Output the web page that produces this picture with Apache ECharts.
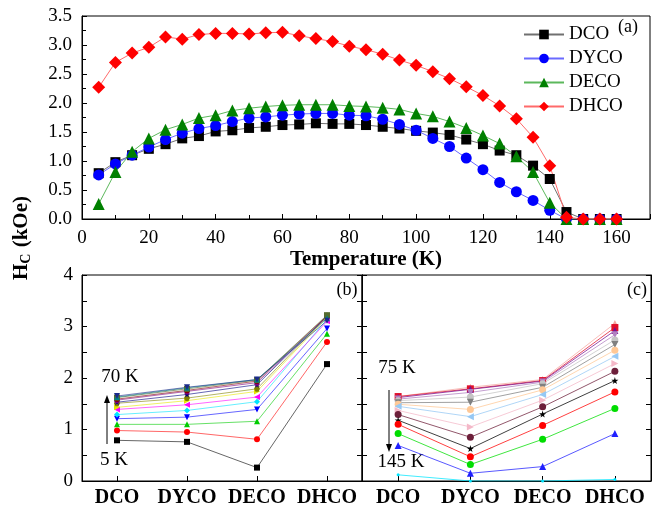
<!DOCTYPE html>
<html>
<head>
<meta charset="utf-8">
<script src="https://cdn.jsdelivr.net/npm/echarts@6/dist/echarts.min.js"></script>
<style>html,body{margin:0;padding:0;background:#fff}#c{width:653px;height:518px}</style>
</head>
<body>
<div id="c"></div>
<script>
// Temperatures (K)
const temps = [5,10,15,20,25,30,35,40,45,50,55,60,65,70,75,80,85,90,95,100,105,110,115,120,125,130,135,140,145,150,155,160];
// Coercivity H_C (kOe) per compound
const DCO  = [0.79,0.98,1.10,1.21,1.29,1.39,1.43,1.51,1.53,1.57,1.59,1.62,1.63,1.65,1.64,1.64,1.62,1.59,1.56,1.52,1.49,1.45,1.37,1.29,1.18,1.10,0.92,0.69,0.12,0,0,0];
const DYCO = [0.76,0.95,1.10,1.24,1.37,1.48,1.56,1.61,1.68,1.74,1.76,1.79,1.81,1.82,1.82,1.79,1.78,1.72,1.63,1.53,1.39,1.25,1.05,0.85,0.63,0.47,0.32,0.15,0,0,0,0];
const DECO = [0.26,0.81,1.16,1.39,1.54,1.63,1.74,1.79,1.87,1.91,1.94,1.96,1.97,1.97,1.97,1.95,1.94,1.92,1.89,1.82,1.77,1.68,1.57,1.44,1.30,1.08,0.81,0.28,0,0,0,0];
const DHCO = [2.27,2.70,2.86,2.96,3.14,3.10,3.18,3.20,3.20,3.19,3.21,3.22,3.16,3.11,3.06,2.98,2.92,2.84,2.74,2.65,2.54,2.42,2.28,2.13,1.95,1.73,1.41,0.92,0.03,0,0,0];
// Compounds (categories of panels b, c)
const compounds = ['DCO','DYCO','DECO','DHCO'];
// Temperatures shown in panel (b) and (c)
const tempsB = [5,10,15,20,25,30,35,40,45,50,55,60,65,70];
const tempsC = [75,80,85,90,95,100,105,110,115,120,125,130,135,140,145];
// Tick labels
const xTicksA = [0,20,40,60,80,100,120,140,160];

const FONT = 'Liberation Serif';
const STAR = 'path://M50,0 L61,35 L98,35 L68,57 L79,91 L50,70 L21,91 L32,57 L2,35 L39,35 Z';
const HEX = 'path://M25,0 L75,0 L100,50 L75,100 L25,100 L0,50 Z';
const PENT = 'path://M50,0 L100,38 L81,100 L19,100 L0,38 Z';

const styleB = [
  ['#000000','rect',0],['#ff0000','circle',0],['#00cc00','triangle',0],['#0000ff','triangle',180],
  ['#00e5ff','diamond',0],['#ff00ff','triangle',90],['#e6e600','triangle',-90],['#808000',HEX,0],
  ['#000080',STAR,0],['#800080',PENT,0],['#800000','circle',0],['#556b2f','rect',0],
  ['#008080','triangle',0],['#1a2a8a','triangle',180]
];
const styleC = [
  ['#f4a6a0','triangle',0],['#e0102a','rect',0],['#7a1090','triangle',0],['#b080c0','triangle',180],
  ['#c4c4c4','circle',0],['#808080','triangle',180],['#ffc896','circle',0],['#96c8f4','triangle',90],
  ['#f4b8c8','triangle',-90],['#6d1f3a','circle',0],['#000000',STAR,0],['#ff0000','circle',0],
  ['#00dd00','circle',0],['#2020ff','triangle',0],['#00e5ff','circle',0]
];

const vals = [DCO, DYCO, DECO, DHCO];
function rowAt(t){ const i = temps.indexOf(t); return vals.map(a => a[i]); }

const series = [];
const topDefs = [
  ['DCO', DCO, 'rect', 10, '#000000', '#707070'],
  ['DYCO', DYCO, 'circle', 11, '#0000ff', '#6a6aff'],
  ['DECO', DECO, 'triangle', 12, '#008000', '#5cb85c'],
  ['DHCO', DHCO, 'diamond', 13, '#ff0000', '#ff6a6a']
];
topDefs.forEach(d => {
  series.push({
    type:'line', name:d[0], xAxisIndex:0, yAxisIndex:0,
    data: temps.map((t,i)=>[t, d[1][i]]),
    symbol:d[2], symbolSize:d[3], itemStyle:{color:d[4]},
    lineStyle:{color:d[5], width:1}
  });
});
tempsB.forEach((t,k) => {
  const s = styleB[k];
  series.push({
    type:'line', name:t+' K', xAxisIndex:1, yAxisIndex:1,
    data: rowAt(t), symbol:s[1], symbolRotate:s[2], symbolSize:6,
    itemStyle:{color:s[0]}, lineStyle:{color:s[0], width:1, opacity:0.6}
  });
});
tempsC.forEach((t,k) => {
  const s = styleC[k];
  const last = (t === 145);
  series.push({
    type:'line', name:t+' K', xAxisIndex:2, yAxisIndex:3,
    data: rowAt(t), symbol:s[1], symbolRotate:s[2], symbolSize:last ? 3 : 7,
    itemStyle:{color:s[0]}, lineStyle:{color:s[0], width:1, opacity:0.75}
  });
});

const axisLine = {show:true, lineStyle:{color:'#000', width:1}};
const tickIn = {show:true, inside:true, length:5, lineStyle:{color:'#000'}};
const minorIn = {show:true, splitNumber:2, length:4, lineStyle:{color:'#000'}};
const lab = {color:'#000', fontFamily:FONT, fontSize:19};

const option = {
  animation:false,
  backgroundColor:'#fff',
  grid:[
    {left:82, top:16, width:569, height:203, show:true, borderColor:'#000', borderWidth:1},
    {left:82, top:275, width:280, height:206, show:true, borderColor:'#000', borderWidth:1},
    {left:362, top:275, width:289, height:206, show:true, borderColor:'#000', borderWidth:1}
  ],
  legend:{
    data:['DCO','DYCO','DECO','DHCO'], orient:'vertical', left:518, top:20,
    itemWidth:40, itemHeight:12, itemGap:5,
    textStyle:{color:'#000', fontFamily:FONT, fontSize:19}
  },
  xAxis:[
    {type:'value', gridIndex:0, min:0, max:170, interval:20,
     axisLine, axisTick:tickIn, minorTick:minorIn, splitLine:{show:false},
     axisLabel:Object.assign({margin:10, formatter:v => xTicksA.includes(v) ? String(v) : ''}, lab),
     name:'Temperature (K)', nameLocation:'middle', nameGap:30,
     nameTextStyle:{color:'#000', fontFamily:FONT, fontSize:21, fontWeight:'bold'}},
    {type:'category', gridIndex:1, data:compounds, boundaryGap:true,
     axisLine, axisTick:Object.assign({alignWithLabel:true, interval:0}, tickIn),
     axisLabel:Object.assign({margin:7, fontWeight:'bold', interval:0}, lab, {fontSize:20})},
    {type:'category', gridIndex:2, data:compounds, boundaryGap:true,
     axisLine, axisTick:Object.assign({alignWithLabel:true, interval:0}, tickIn),
     axisLabel:Object.assign({margin:7, fontWeight:'bold', interval:0}, lab, {fontSize:20})}
  ],
  yAxis:[
    {type:'value', gridIndex:0, min:0, max:3.5, interval:0.5, axisLine, axisTick:tickIn, minorTick:minorIn,
     splitLine:{show:false}, axisLabel:Object.assign({margin:10, formatter:v => v.toFixed(1)}, lab)},
    {type:'value', gridIndex:1, min:0, max:4, interval:1, axisLine, axisTick:tickIn, minorTick:Object.assign({}, minorIn, {length:5}),
     splitLine:{show:false}, axisLabel:Object.assign({margin:9}, lab)},
    {type:'value', gridIndex:1, position:'right', min:0, max:4, interval:1, axisLine, axisTick:tickIn, minorTick:Object.assign({}, minorIn, {length:5}),
     splitLine:{show:false}, axisLabel:{show:false}},
    {type:'value', gridIndex:2, position:'left', min:0, max:4, interval:1, axisLine, axisTick:tickIn, minorTick:Object.assign({}, minorIn, {length:5}),
     splitLine:{show:false}, axisLabel:{show:false}},
    {type:'value', gridIndex:2, position:'right', min:0, max:4, interval:1, axisLine, axisTick:tickIn, minorTick:Object.assign({}, minorIn, {length:5}),
     splitLine:{show:false}, axisLabel:{show:false}}
  ],
  series,
  graphic:[
    {type:'text', x:22, y:238, rotation:Math.PI/2, style:{
      text:'{h|H}{s|C}{h| (kOe)}', align:'center', verticalAlign:'middle',
      rich:{h:{fontFamily:FONT, fontSize:21, fontWeight:'bold', fill:'#000'},
            s:{fontFamily:FONT, fontSize:14, fontWeight:'bold', fill:'#000', verticalAlign:'bottom', padding:[8,1,0,0]}}}},
    {type:'text', x:628, y:27, style:{text:'(a)', font:'18px "Liberation Serif"', fill:'#000', align:'center', verticalAlign:'middle'}},
    {type:'text', x:347, y:290, style:{text:'(b)', font:'18px "Liberation Serif"', fill:'#000', align:'center', verticalAlign:'middle'}},
    {type:'text', x:637, y:290, style:{text:'(c)', font:'18px "Liberation Serif"', fill:'#000', align:'center', verticalAlign:'middle'}},
    {type:'text', x:120, y:377, style:{text:'70 K', font:'19px "Liberation Serif"', fill:'#000', align:'center', verticalAlign:'middle'}},
    {type:'text', x:114, y:460, style:{text:'5 K', font:'19px "Liberation Serif"', fill:'#000', align:'center', verticalAlign:'middle'}},
    {type:'line', shape:{x1:107, y1:444, x2:107, y2:402}, style:{stroke:'#000', lineWidth:1}},
    {type:'polygon', shape:{points:[[104,403],[110,403],[107,395]]}, style:{fill:'#000'}},
    {type:'text', x:397, y:368, style:{text:'75 K', font:'19px "Liberation Serif"', fill:'#000', align:'center', verticalAlign:'middle'}},
    {type:'text', x:401, y:462, style:{text:'145 K', font:'19px "Liberation Serif"', fill:'#000', align:'center', verticalAlign:'middle'}},
    {type:'line', shape:{x1:389, y1:390, x2:389, y2:445}, style:{stroke:'#000', lineWidth:1}},
    {type:'polygon', shape:{points:[[386,444],[392,444],[389,452]]}, style:{fill:'#000'}}
  ]
};
const chart = echarts.init(document.getElementById('c'), null, {renderer:'canvas'});
chart.setOption(option);
</script>
</body>
</html>
